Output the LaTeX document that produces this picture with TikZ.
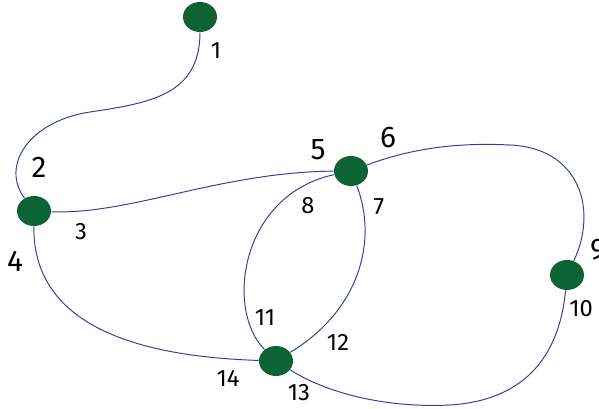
\documentclass[tikz,border=0pt]{standalone}
\usepackage{fontspec}
\setmainfont{Fira Sans}
\usepackage{tikz}
\usetikzlibrary{shapes.geometric}

\definecolor{vgreen}{RGB}{12,99,52}
\definecolor{eblue}{RGB}{52,60,150}

\begin{document}
\begin{tikzpicture}[x=0.02cm, y=-0.02cm,
    vertex/.style={ellipse, fill=vgreen, minimum width=0.68cm, minimum height=0.6cm, inner sep=0pt},
    edge/.style={eblue, line width=0.55pt},
    lab/.style={font=\fontsize{13.5}{15}\selectfont, inner sep=0pt},
    biglab/.style={font=\fontsize{17}{19}\selectfont, inner sep=0pt}]
  \useasboundingbox (0,0) rectangle (599,409);
  % vertices
  \foreach \n/\x/\y in {1/200/17, 2/34/211, 5/351/171, 9/567/275, 13/276/361}
    \node[vertex] (v\n) at (\x,\y) {};
  % edges
  \draw[edge] (v1) .. controls (200,95) and (150,103) .. (90,112)
    .. controls (30,121) and (0,165) .. (v2);
  \draw[edge] (v2) .. controls (130,215) and (220,172) .. (v5);
  \draw[edge] (v2) .. controls (33,300) and (90,355) .. (v13);
  \draw[edge] (v5) .. controls (240,195) and (225,310) .. (v13);
  \draw[edge] (v5) .. controls (378,240) and (360,310) .. (v13);
  \draw[edge] (v5) .. controls (420,145) and (470,143) .. (510,145)
    .. controls (580,148) and (598,210) .. (v9);
  \draw[edge] (v9) .. controls (560,350) and (530,400) .. (450,405)
    .. controls (390,408) and (330,395) .. (v13);
  % end labels
  \foreach \n/\x/\y in {1/216/51, 3/81/232, 7/379/207, 8/308/206, 10/581/309,
                        11/265/318, 12/338/342, 13/299/393, 14/228/378}
    \node[lab] (l\n) at (\x,\y) {\n};
  \foreach \n/\x/\y in {2/39/167, 4/15/261, 5/318/150, 6/388/138, 9/598/250}
    \node[biglab] (l\n) at (\x,\y) {\n};
\end{tikzpicture}
\end{document}
